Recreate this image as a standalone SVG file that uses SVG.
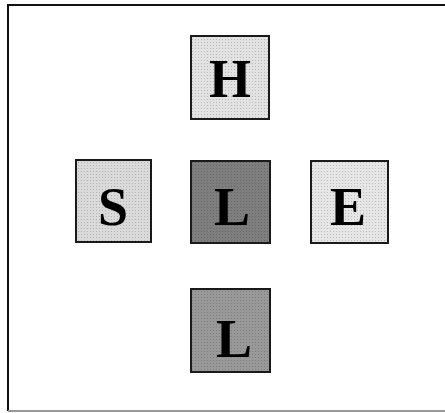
<svg xmlns="http://www.w3.org/2000/svg" width="445" height="413" viewBox="0 0 445 413">
<style>
.box{stroke:#1a1a1a;stroke-width:2}
.lbl{font-family:"Liberation Serif","Times New Roman",serif;font-weight:bold;font-size:54px;fill:#000;text-anchor:middle}
</style>
<defs>
<pattern id="dots" width="3" height="3" patternUnits="userSpaceOnUse">
<rect x="0" y="0" width="1" height="1" fill="#000" fill-opacity="0.18"/>
</pattern>
</defs>
<rect width="445" height="413" fill="#fff"/>
<g id="frame" fill="none">
<line x1="8" y1="5" x2="8" y2="411" stroke="#111" stroke-width="2"/>
<line x1="7" y1="5" x2="445" y2="5" stroke="#111" stroke-width="2"/>
<line x1="8" y1="411" x2="445" y2="411" stroke="#999" stroke-width="2"/>
</g>
<g id="connectors"></g>
<g id="node-H">
<rect class="box" x="191" y="36" width="78" height="83" fill="#e2e2e2"/>
<rect x="191" y="36" width="78" height="83" fill="url(#dots)"/>
<text class="lbl" x="230" y="97">H</text>
</g>
<g id="node-S">
<rect class="box" x="76" y="160" width="75" height="82" fill="#dadada"/>
<rect x="76" y="160" width="75" height="82" fill="url(#dots)"/>
<text class="lbl" x="113" y="225">S</text>
</g>
<g id="node-L1">
<rect class="box" x="191" y="161" width="79" height="82" fill="#7e7e7e"/>
<rect x="191" y="161" width="79" height="82" fill="url(#dots)"/>
<text class="lbl" x="232" y="225">L</text>
</g>
<g id="node-E">
<rect class="box" x="311" y="161" width="77" height="82" fill="#e6e6e6"/>
<rect x="311" y="161" width="77" height="82" fill="url(#dots)"/>
<text class="lbl" x="348" y="225">E</text>
</g>
<g id="node-L2">
<rect class="box" x="191" y="289" width="79" height="83" fill="#999999"/>
<rect x="191" y="289" width="79" height="83" fill="url(#dots)"/>
<text class="lbl" x="234" y="357">L</text>
</g>
</svg>
